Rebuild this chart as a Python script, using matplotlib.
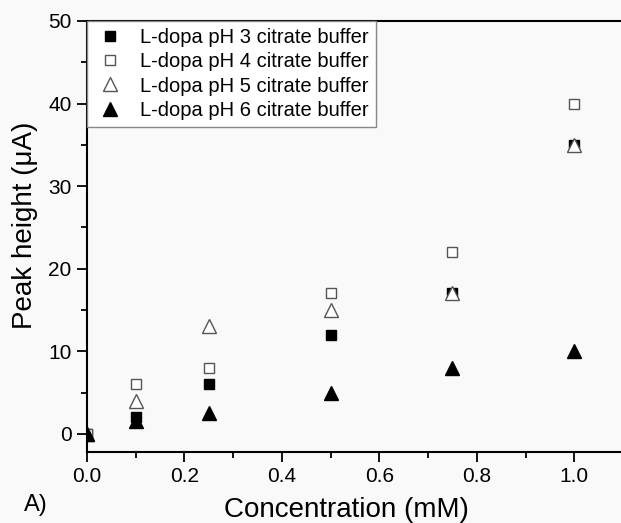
import matplotlib.pyplot as plt
from matplotlib.ticker import MultipleLocator

plt.rcParams['font.family'] = ['Liberation Sans', 'DejaVu Sans']

# concentrations (mM)
conc = [0.0, 0.1, 0.25, 0.5, 0.75, 1.0]

# peak heights (uA)
ph3 = [0, 2, 6, 12, 17, 35]
ph4 = [0, 6, 8, 17, 22, 40]
ph5 = [0, 4, 13, 15, 17, 35]
ph6 = [0, 1.5, 2.5, 5, 8, 10]

labels = ['L-dopa pH 3 citrate buffer', 'L-dopa pH 4 citrate buffer',
          'L-dopa pH 5 citrate buffer', 'L-dopa pH 6 citrate buffer']

fig = plt.figure(figsize=(6.21, 5.23), dpi=100, facecolor='#f9f9f9')
ax = fig.add_axes([87 / 621, 71 / 523, 534 / 621, 431 / 523])
ax.set_facecolor('#f9f9f9')

ax.plot(conc, ph3, ls='none', marker='s', ms=7.5, mfc='black', mec='black', label=labels[0])
ax.plot(conc, ph4, ls='none', marker='s', ms=7.5, mfc='white', mec='#555555', mew=1, label=labels[1])
ax.plot(conc, ph5, ls='none', marker='^', ms=10, mfc='white', mec='#555555', mew=1, label=labels[2])
ax.plot(conc, ph6, ls='none', marker='^', ms=10, mfc='black', mec='black', label=labels[3])

ax.set_xlim(0, 1.096)
ax.set_ylim(-2.2, 50)
ax.xaxis.set_major_locator(MultipleLocator(0.2))
ax.xaxis.set_minor_locator(MultipleLocator(0.1))
ax.yaxis.set_major_locator(MultipleLocator(10))
ax.yaxis.set_minor_locator(MultipleLocator(5))
ax.tick_params(which='both', direction='out', width=1.3, labelsize=15, pad=4)
ax.tick_params(which='major', length=7)
ax.tick_params(which='minor', length=4)
for s in ['left', 'bottom', 'top']:
    ax.spines[s].set_linewidth(1.5)
ax.spines['right'].set_visible(False)

# axis titles placed in figure coordinates
fig.text(346 / 621, 1 - 510 / 523, 'Concentration (mM)',
         fontsize=20, ha='center', va='center')
fig.text(25 / 621, 1 - 225 / 523, 'Peak height (\u03bcA)', fontsize=20,
         rotation=90, ha='center', va='center')

leg = ax.legend(loc='upper left', fontsize=14.5, borderaxespad=0, frameon=True,
                fancybox=False, handletextpad=0.7, labelspacing=0.26,
                borderpad=0.35, handlelength=1.6)
leg.get_frame().set_edgecolor('#888888')
leg.get_frame().set_facecolor('white')
leg.get_frame().set_alpha(1)

fig.text(24 / 621, 1 - 505 / 523, 'A)', fontsize=17, va='center')

fig.savefig('out.png', dpi=100, facecolor=fig.get_facecolor())
